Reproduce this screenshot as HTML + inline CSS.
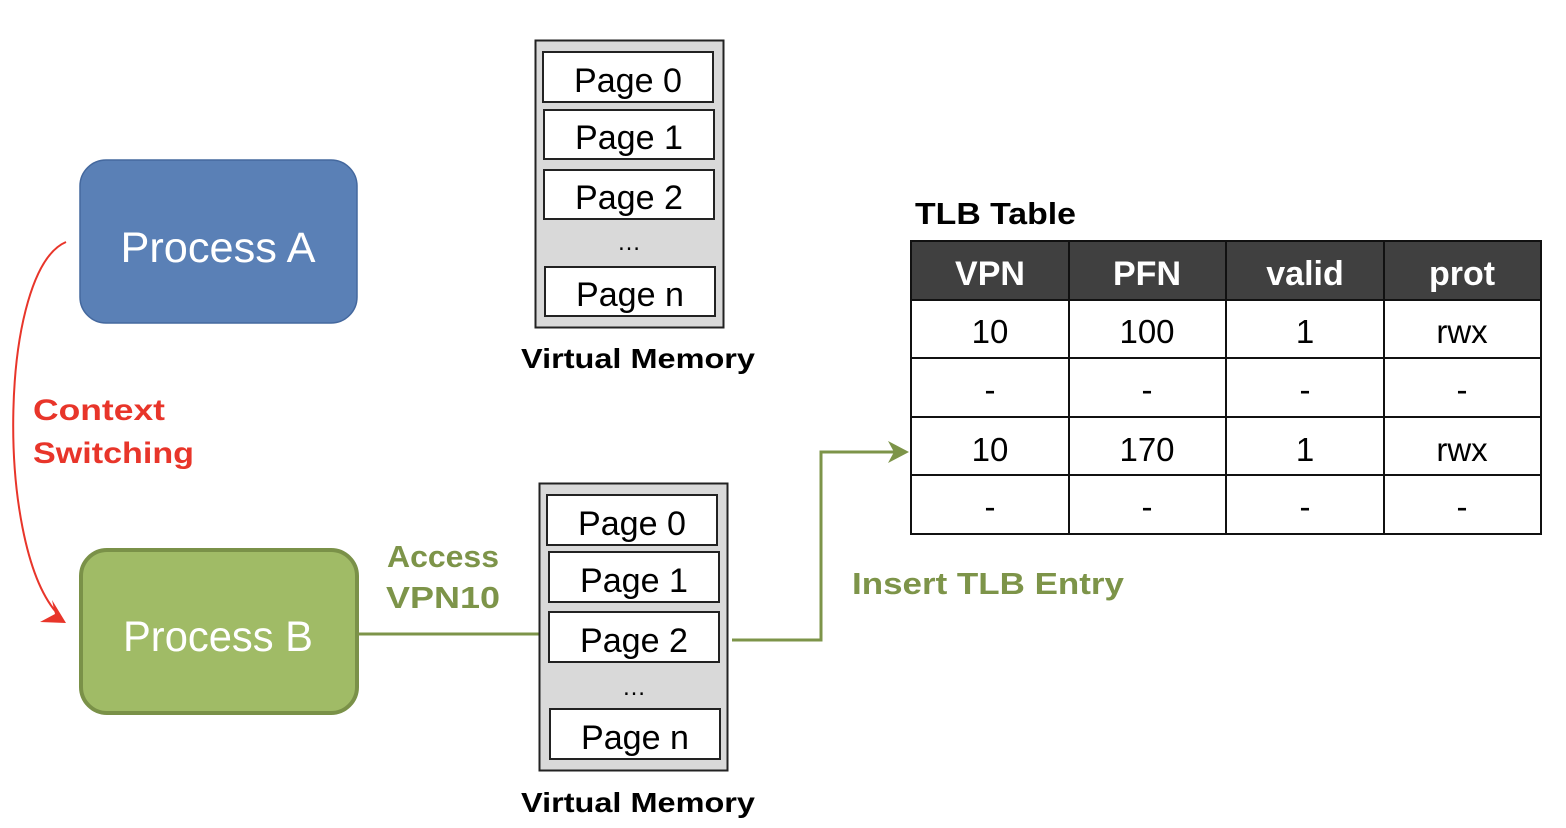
<!DOCTYPE html>
<html><head><meta charset="utf-8"><style>html,body{margin:0;padding:0;background:#fff}svg{display:block}</style></head>
<body>
<svg width="1566" height="828" viewBox="0 0 1566 828" xmlns="http://www.w3.org/2000/svg" font-family="'Liberation Sans', sans-serif">
<!-- Process A -->
<rect x="80" y="160" width="277" height="163" rx="26" fill="#5a80b6" stroke="#44689e" stroke-width="1.5"/>
<text x="218" y="262" text-anchor="middle" font-size="43" fill="#fff" textLength="195" lengthAdjust="spacingAndGlyphs">Process A</text>
<!-- Process B -->
<rect x="81" y="550" width="276" height="163" rx="26" fill="#a0bb66" stroke="#7a9148" stroke-width="4"/>
<text x="218" y="651" text-anchor="middle" font-size="43" fill="#fff" textLength="190" lengthAdjust="spacingAndGlyphs">Process B</text>
<!-- red arc -->
<path d="M66,242 C 0,270 -5,540 56,612" fill="none" stroke="#e8352a" stroke-width="2"/>
<path d="M40,622 L66,623 L52,600 L55,614 Z" fill="#e8352a"/>
<text x="33" y="420" font-size="30" font-weight="bold" fill="#e8352a" textLength="132" lengthAdjust="spacingAndGlyphs">Context</text>
<text x="33" y="463" font-size="30" font-weight="bold" fill="#e8352a" textLength="161" lengthAdjust="spacingAndGlyphs">Switching</text>
<text x="387" y="567" font-size="31" font-weight="bold" fill="#7d9449" textLength="112" lengthAdjust="spacingAndGlyphs">Access</text>
<text x="386" y="608" font-size="31" font-weight="bold" fill="#7d9449" textLength="114" lengthAdjust="spacingAndGlyphs">VPN10</text>
<!-- connectors -->
<line x1="357" y1="634" x2="540" y2="634" stroke="#7d9449" stroke-width="3"/>
<polyline points="732,640 821,640 821,452 900,452" fill="none" stroke="#7d9449" stroke-width="3"/>
<path d="M888,441 L909,452 L888,463 L894,452 Z" fill="#7d9449"/>
<!-- VM top -->
<rect x="535.5" y="40.5" width="188" height="287" fill="#d9d9d9" stroke="#222" stroke-width="2"/>
<g fill="#fff" stroke="#222" stroke-width="2">
<rect x="543" y="52" width="170" height="50"/><rect x="544" y="110" width="170" height="49"/><rect x="544" y="170" width="170" height="49"/><rect x="545" y="267" width="170" height="49"/>
</g>
<g font-size="34" text-anchor="middle" fill="#000">
<text x="628" y="92" textLength="108" lengthAdjust="spacingAndGlyphs">Page 0</text><text x="629" y="149" textLength="108" lengthAdjust="spacingAndGlyphs">Page 1</text><text x="629" y="209" textLength="108" lengthAdjust="spacingAndGlyphs">Page 2</text><text x="630" y="306" textLength="108" lengthAdjust="spacingAndGlyphs">Page n</text>
<text x="629" y="250" font-size="24">…</text>
</g>
<text x="638" y="368" text-anchor="middle" font-size="28" font-weight="bold" textLength="234" lengthAdjust="spacingAndGlyphs">Virtual Memory</text>
<!-- VM bottom -->
<rect x="539.5" y="483.5" width="188" height="287" fill="#d9d9d9" stroke="#222" stroke-width="2"/>
<g fill="#fff" stroke="#222" stroke-width="2">
<rect x="547" y="495" width="170" height="50"/><rect x="549" y="552" width="170" height="50"/><rect x="549" y="612" width="170" height="50"/><rect x="550" y="709" width="170" height="50"/>
</g>
<g font-size="34" text-anchor="middle" fill="#000">
<text x="632" y="535" textLength="108" lengthAdjust="spacingAndGlyphs">Page 0</text><text x="634" y="592" textLength="108" lengthAdjust="spacingAndGlyphs">Page 1</text><text x="634" y="652" textLength="108" lengthAdjust="spacingAndGlyphs">Page 2</text><text x="635" y="749" textLength="108" lengthAdjust="spacingAndGlyphs">Page n</text>
<text x="634" y="695" font-size="24">…</text>
</g>
<text x="638" y="812" text-anchor="middle" font-size="28" font-weight="bold" textLength="234" lengthAdjust="spacingAndGlyphs">Virtual Memory</text>
<text x="852" y="594" font-size="31" font-weight="bold" fill="#7d9449" textLength="272" lengthAdjust="spacingAndGlyphs">Insert TLB Entry</text>
<!-- TLB -->
<text x="915" y="224" font-size="31" font-weight="bold" textLength="161" lengthAdjust="spacingAndGlyphs">TLB Table</text>
<rect x="911" y="241" width="630" height="59" fill="#404040"/>
<g stroke="#111" stroke-width="2" fill="none">
<rect x="911" y="241" width="630" height="293"/>
<line x1="911" y1="300" x2="1541" y2="300"/><line x1="911" y1="358" x2="1541" y2="358"/><line x1="911" y1="417" x2="1541" y2="417"/><line x1="911" y1="475" x2="1541" y2="475"/>
<line x1="1069" y1="241" x2="1069" y2="534"/><line x1="1226" y1="241" x2="1226" y2="534"/><line x1="1384" y1="241" x2="1384" y2="534"/>
</g>
<g font-size="34" font-weight="bold" fill="#fff" text-anchor="middle">
<text x="990" y="285">VPN</text><text x="1147" y="285">PFN</text><text x="1305" y="285">valid</text><text x="1462" y="285">prot</text>
</g>
<g font-size="33" fill="#000" text-anchor="middle">
<text x="990" y="343">10</text><text x="1147" y="343">100</text><text x="1305" y="343">1</text><text x="1462" y="343">rwx</text>
<text x="990" y="401">-</text><text x="1147" y="401">-</text><text x="1305" y="401">-</text><text x="1462" y="401">-</text>
<text x="990" y="461">10</text><text x="1147" y="461">170</text><text x="1305" y="461">1</text><text x="1462" y="461">rwx</text>
<text x="990" y="518">-</text><text x="1147" y="518">-</text><text x="1305" y="518">-</text><text x="1462" y="518">-</text>
</g>
</svg>
</body></html>
